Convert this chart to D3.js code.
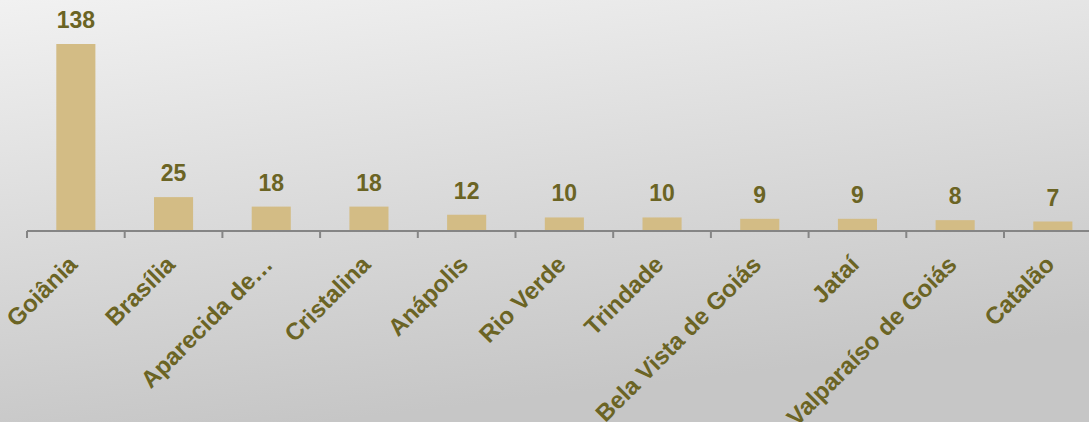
<!DOCTYPE html>
<html><head><meta charset="utf-8">
<script src="https://cdn.jsdelivr.net/npm/d3@7"></script>
<style>html,body{margin:0;padding:0;overflow:hidden;}</style>
</head><body>
<svg id="c" width="1089" height="422"></svg>
<script>
const categories = ["Goiânia","Brasília","Aparecida de…","Cristalina","Anápolis","Rio Verde","Trindade","Bela Vista de Goiás","Jataí","Valparaíso de Goiás","Catalão"];
const values = [138,25,18,18,12,10,10,9,9,8,7];

const W = 1089, H = 422;
const svg = d3.select("#c");
const defs = svg.append("defs");
const g = defs.append("linearGradient").attr("id","bg").attr("x1","0").attr("y1","0").attr("x2","0.3").attr("y2","1");
g.append("stop").attr("offset","0").attr("stop-color","#f1f1f1");
g.append("stop").attr("offset","1").attr("stop-color","#c6c6c6");
svg.append("rect").attr("width",W).attr("height",H).attr("fill","url(#bg)");

const x0 = 27, step = 97.7;
const x = d3.scaleBand().domain(categories).range([x0, x0 + step*categories.length]).paddingInner(0.6).paddingOuter(0.3);
const baseY = 231;
const y = d3.scaleLinear().domain([0,138]).range([baseY, 44]);

svg.selectAll("rect.bar").data(values).join("rect").attr("class","bar")
  .attr("x",(d,i)=>x(categories[i])).attr("width",x.bandwidth())
  .attr("y",d=>y(d)).attr("height",d=>baseY-y(d)).attr("fill","#d3bc85");

svg.selectAll("text.val").data(values).join("text").attr("class","val")
  .attr("x",(d,i)=>x(categories[i])+x.bandwidth()/2).attr("y",d=>y(d)-16)
  .attr("text-anchor","middle").attr("font-family","Liberation Sans, Arial, sans-serif")
  .attr("font-weight","bold").attr("font-size",23).attr("fill","#6b6424").text(d=>d);

// axis
const ax = svg.append("g");
ax.append("line").attr("x1",x0).attr("x2",W).attr("y1",baseY).attr("y2",baseY).attr("stroke","#858585").attr("stroke-width",2);
const ticks = d3.range(categories.length).map(i=>x0+i*step);
ax.selectAll("line.t").data(ticks).join("line").attr("class","t")
  .attr("x1",d=>d).attr("x2",d=>d).attr("y1",baseY).attr("y2",baseY+7).attr("stroke","#858585").attr("stroke-width",2);

svg.selectAll("text.lab").data(categories).join("text").attr("class","lab")
  .attr("transform",d=>`translate(${x(d)+x.bandwidth()/2-3},${baseY+29}) rotate(-45)`)
  .attr("text-anchor","end").attr("dy","0.35em")
  .attr("font-family","Liberation Sans, Arial, sans-serif")
  .attr("font-weight","bold").attr("font-size",24).attr("fill","#6b6424").text(d=>d);
</script>
</body></html>
